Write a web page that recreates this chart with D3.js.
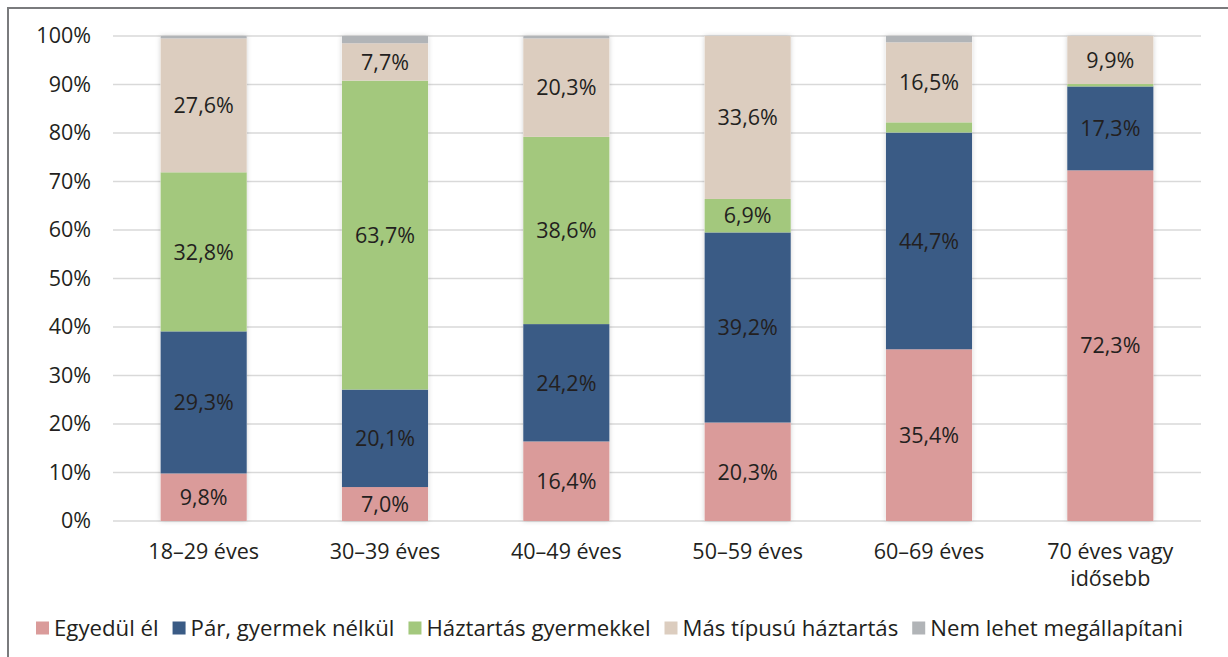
<!DOCTYPE html>
<html>
<head>
<meta charset="utf-8">
<script src="https://cdn.jsdelivr.net/npm/d3@7"></script>
<style>
  body { margin: 0; background: #fff; }
  svg { display: block; font-family: "Open Sans", "Noto Sans", sans-serif; }
</style>
</head>
<body>
<svg id="chart" width="1228" height="657"></svg>
<script>
const categories = ["18–29 éves", "30–39 éves", "40–49 éves", "50–59 éves", "60–69 éves", "70 éves vagy|idősebb"]
const seriesNames = ["Egyedül él", "Pár, gyermek nélkül", "Háztartás gyermekkel", "Más típusú háztartás", "Nem lehet megállapítani"]
const egyedul   = [9.8, 7.0, 16.4, 20.3, 35.4, 72.3]
const par       = [29.3, 20.1, 24.2, 39.2, 44.7, 17.3]
const gyermek   = [32.8, 63.7, 38.6, 6.9, 2.1, 0.5]
const mas       = [27.6, 7.7, 20.3, 33.6, 16.5, 9.9]
const nemLehet  = [0.5, 1.5, 0.5, 0.0, 1.3, 0.0]
const yTicks = [0, 10, 20, 30, 40, 50, 60, 70, 80, 90, 100]
const colors = ["#da9b9a", "#3a5b85", "#a3c87d", "#dccdbf", "#b1b4b7"]
const labelled = [true, true, true, true, false]
const minLabel = 5
const fs = 21.5

const svg = d3.select("#chart")
const margin = {left: 113, right: 27, top: 36, bottom: 136}
const width = 1228, height = 657

// outer frame (only top and left visible)
svg.append("line").attr("x1", 8).attr("x2", width).attr("y1", 8).attr("y2", 8)
  .attr("stroke", "#7a7b7d").attr("stroke-width", 2)
svg.append("line").attr("x1", 8).attr("x2", 8).attr("y1", 7).attr("y2", height)
  .attr("stroke", "#7a7b7d").attr("stroke-width", 2)

const defs = svg.append("defs")
defs.append("filter").attr("id", "shadow").attr("x", "-20%").attr("y", "-5%").attr("width", "140%").attr("height", "110%")
  .append("feDropShadow").attr("dx", 0).attr("dy", 0).attr("stdDeviation", 2.5)
  .attr("flood-color", "#000").attr("flood-opacity", 0.18)

const x = d3.scaleBand().domain(categories).range([margin.left, width - margin.right]).paddingInner(0.525).paddingOuter(0.2625)
const y = d3.scaleLinear().domain([0, 100]).range([height - margin.bottom, margin.top])

// gridlines
svg.append("g").selectAll("line").data(yTicks).join("line")
  .attr("x1", margin.left).attr("x2", width - margin.right)
  .attr("y1", d => y(d)).attr("y2", d => y(d))
  .attr("stroke", "#d9d9d9").attr("stroke-width", 1.5)

// y axis labels
const yAxis = svg.append("g").attr("transform", `translate(${margin.left - 22},0)`)
  .call(d3.axisLeft(y).tickValues(yTicks).tickFormat(d => d + "%").tickSize(0).tickPadding(0))
yAxis.select(".domain").remove()
yAxis.selectAll("text").attr("font-size", fs).attr("fill", "#231f20").attr("font-family", "'Open Sans', sans-serif")

const table = categories.map((c, i) => ({cat: c, s0: egyedul[i], s1: par[i], s2: gyermek[i], s3: mas[i], s4: nemLehet[i]}))
const stack = d3.stack().keys(["s0", "s1", "s2", "s3", "s4"])(table)

// bar shadow
svg.append("g").selectAll("rect").data(table).join("rect")
  .attr("x", d => x(d.cat)).attr("width", x.bandwidth())
  .attr("y", d => y(d.s0 + d.s1 + d.s2 + d.s3 + d.s4)).attr("height", d => y(0) - y(d.s0 + d.s1 + d.s2 + d.s3 + d.s4))
  .attr("fill", "#fff").attr("filter", "url(#shadow)")

const layers = svg.append("g").selectAll("g").data(stack).join("g")
  .attr("fill", (d, i) => colors[i])
layers.selectAll("rect").data(d => d).join("rect")
  .attr("x", d => x(d.data.cat)).attr("width", x.bandwidth())
  .attr("y", d => y(d[1])).attr("height", d => Math.max(0, y(d[0]) - y(d[1])))

// value labels
stack.forEach((layer, i) => {
  if (!labelled[i]) return
  svg.append("g").selectAll("text").data(layer.filter(d => d[1] - d[0] >= minLabel)).join("text")
    .attr("x", d => x(d.data.cat) + x.bandwidth() / 2)
    .attr("y", d => (y(d[0]) + y(d[1])) / 2)
    .attr("dy", "0.36em").attr("text-anchor", "middle")
    .attr("font-size", fs).attr("fill", "#231f20")
    .text(d => (d[1] - d[0]).toFixed(1).replace(".", ",") + "%")
})

// x labels
const xl = svg.append("g").selectAll("text").data(categories).join("text")
  .attr("x", d => x(d) + x.bandwidth() / 2).attr("y", y(0) + 38)
  .attr("text-anchor", "middle").attr("font-size", fs).attr("fill", "#231f20")
xl.selectAll("tspan").data(d => d.split("|")).join("tspan")
  .attr("x", function() { return d3.select(this.parentNode).attr("x") })
  .attr("dy", (d, i) => i ? 27 : 0).text(d => d)

// legend
const legend = svg.append("g").attr("transform", "translate(36,628)")
let lx = 0
seriesNames.forEach((name, i) => {
  const g = legend.append("g").attr("transform", `translate(${lx},0)`)
  g.append("rect").attr("x", 0).attr("y", -6.5).attr("width", 13).attr("height", 13).attr("fill", colors[i])
  const t = g.append("text").attr("x", 18).attr("dy", "0.36em").attr("font-size", 22.2).attr("fill", "#231f20").text(name)
  lx += 18 + t.node().getComputedTextLength() + 14
})
</script>
</body>
</html>
